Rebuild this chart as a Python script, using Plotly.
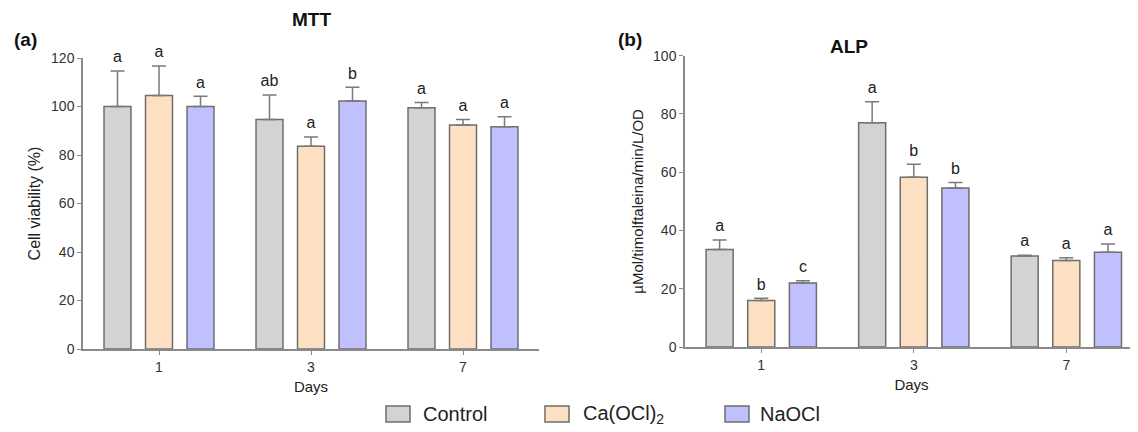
import plotly.graph_objects as go

days = ["1", "3", "7"]
groups = ["Control", "Ca(OCl)<sub>2</sub>", "NaOCl"]
colors = ["#d3d3d3", "#fde0c2", "#c0c0fe"]

mtt_mean = {"Control": [100.0, 94.6, 99.5],
            "Ca(OCl)<sub>2</sub>": [104.5, 83.6, 92.4],
            "NaOCl": [100.0, 102.3, 91.7]}
mtt_err = {"Control": [14.6, 10.1, 2.1],
           "Ca(OCl)<sub>2</sub>": [12.2, 3.8, 2.2],
           "NaOCl": [4.2, 5.6, 4.1]}
mtt_letters = {"Control": ["a", "ab", "a"],
               "Ca(OCl)<sub>2</sub>": ["a", "a", "a"],
               "NaOCl": ["a", "b", "a"]}

alp_mean = {"Control": [33.5, 77.0, 31.2],
            "Ca(OCl)<sub>2</sub>": [16.0, 58.3, 29.7],
            "NaOCl": [22.0, 54.6, 32.5]}
alp_err = {"Control": [3.2, 7.2, 0.3],
           "Ca(OCl)<sub>2</sub>": [0.7, 4.4, 0.9],
           "NaOCl": [0.7, 1.9, 2.9]}
alp_letters = {"Control": ["a", "a", "a"],
               "Ca(OCl)<sub>2</sub>": ["b", "b", "a"],
               "NaOCl": ["c", "b", "a"]}

FONT = "Liberation Sans, Arial, sans-serif"
OFF = 8                      # page body margin in the browser
W, H = 1138 - OFF, 432 - OFF
fig = go.Figure()

panels = [("x", "y", mtt_mean, mtt_err, mtt_letters),
          ("x2", "y2", alp_mean, alp_err, alp_letters)]
for xa, ya, means, errs, letters in panels:
    for g, c in zip(groups, colors):
        fig.add_trace(go.Bar(
            x=days, y=means[g], name=g, xaxis=xa, yaxis=ya,
            marker=dict(color=c, line=dict(color="#6e6e6e", width=1.5)),
            error_y=dict(type="data", symmetric=False, array=errs[g],
                         arrayminus=[0] * len(days), color="#7a7a7a",
                         thickness=1.5, width=7),
            offsetgroup=g, showlegend=False))
        fig.add_trace(go.Scatter(
            x=days, y=[m + e for m, e in zip(means[g], errs[g])],
            text=letters[g], mode="markers+text", textposition="top center",
            marker=dict(size=6, color="rgba(0,0,0,0)"),
            textfont=dict(size=16, color="#222", family=FONT),
            xaxis=xa, yaxis=ya, offsetgroup=g, showlegend=False,
            hoverinfo="skip", cliponaxis=False))

axis_common = dict(showline=True, linecolor="#8a8a8a", linewidth=1.5,
                   ticks="outside", tickcolor="#8a8a8a", ticklen=4,
                   tickfont=dict(size=14, color="#333", family=FONT),
                   showgrid=False, zeroline=False)


def px_x(v):
    return (v - OFF) / W


def px_y(v):
    return 1 - (v - OFF) / H


# manual legend (boxes + labels) in paper coordinates
legend_box_left = [386, 545, 725]
legend_text_left = [421, 581, 758]
legend_y = 414
shapes = []
annotations = []
for g, c, bx, tx in zip(groups, colors, legend_box_left, legend_text_left):
    shapes.append(dict(type="rect", xref="paper", yref="paper",
                       x0=px_x(bx), x1=px_x(bx + 24), y0=px_y(legend_y + 8), y1=px_y(legend_y - 8),
                       fillcolor=c, line=dict(color="#6e6e6e", width=1.5)))
    annotations.append(dict(text=g, x=px_x(tx), y=px_y(legend_y), xref="paper", yref="paper",
                            xanchor="left", yanchor="middle", showarrow=False,
                            font=dict(size=20, color="#222", family=FONT)))

annotations += [
    dict(text="<b>MTT</b>", x=px_x(311), y=px_y(20), xref="paper", yref="paper",
         xanchor="center", yanchor="middle", showarrow=False, font=dict(size=19, color="#111")),
    dict(text="<b>ALP</b>", x=px_x(849), y=px_y(46), xref="paper", yref="paper",
         xanchor="center", yanchor="middle", showarrow=False, font=dict(size=19, color="#111")),
    dict(text="<b>(a)</b>", x=px_x(25), y=px_y(40), xref="paper", yref="paper",
         xanchor="center", yanchor="middle", showarrow=False, font=dict(size=19, color="#111")),
    dict(text="<b>(b)</b>", x=px_x(630), y=px_y(40), xref="paper", yref="paper",
         xanchor="center", yanchor="middle", showarrow=False, font=dict(size=19, color="#111")),
]

fig.update_layout(
    width=W, height=H, plot_bgcolor="white", paper_bgcolor="white",
    margin=dict(l=0, r=0, t=0, b=0, autoexpand=False),
    barmode="group", bargap=0.181, bargroupgap=0.35,
    scattermode="group", scattergap=0.181,
    font=dict(family=FONT, color="#222"),
    showlegend=False,
    xaxis=dict(domain=[px_x(83), px_x(539)], anchor="y",
               range=[-0.5, 2.5], type="category",
               title=dict(text="Days", font=dict(size=15), standoff=8),
               **axis_common),
    yaxis=dict(domain=[px_y(349), px_y(58)], anchor="x",
               range=[0, 120], dtick=20,
               title=dict(text="Cell viability (%)", font=dict(size=16), standoff=6),
               **axis_common),
    xaxis2=dict(domain=[px_x(685), 1.0], anchor="y2",
                range=[-0.5, 2.47], type="category",
                title=dict(text="Days", font=dict(size=15), standoff=8),
                **axis_common),
    yaxis2=dict(domain=[px_y(347), px_y(55.7)], anchor="x2",
                range=[0, 100], dtick=20,
                title=dict(text="µMol/timolftaleina/min/L/OD", font=dict(size=15), standoff=6),
                **axis_common),
    shapes=shapes,
    annotations=annotations,
)

fig.write_html("out.html")
